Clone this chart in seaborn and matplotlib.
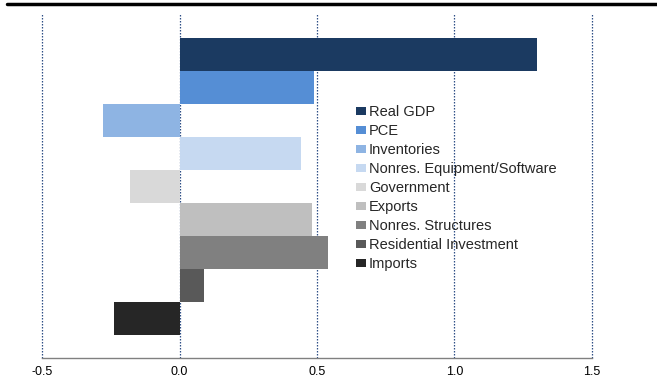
import matplotlib
matplotlib.use("Agg")
import matplotlib.pyplot as plt
from matplotlib.lines import Line2D
import seaborn as sns
import pandas as pd

categories = [
    "Real GDP",
    "PCE",
    "Inventories",
    "Nonres. Equipment/Software",
    "Government",
    "Exports",
    "Nonres. Structures",
    "Residential Investment",
    "Imports",
]
values = [1.30, 0.49, -0.28, 0.44, -0.18, 0.48, 0.54, 0.09, -0.24]
colors = ["#1B3A61", "#558ED5", "#8EB4E3", "#C6D9F1", "#D9D9D9",
          "#BFBFBF", "#808080", "#595959", "#262626"]
xticks = [-0.5, 0.0, 0.5, 1.0, 1.5]

sns.set_style("white")
plt.rcParams["font.family"] = ["Liberation Sans", "DejaVu Sans"]

df = pd.DataFrame({"component": categories, "contribution": values})

fig = plt.figure(figsize=(6.57, 3.80), dpi=100)
ax = fig.add_axes([0.064, 0.058, 0.837, 0.908])

sns.barplot(data=df, y="component", x="contribution", hue="component",
            palette=colors, width=1.0, dodge=False, legend=False,
            saturation=1.0, linewidth=0, ax=ax)

ax.set_xlim(-0.5, 1.5)
ax.set_ylim(9.2, -1.25)
ax.set_xticks(xticks)
ax.set_xticklabels([f"{t:.1f}" for t in xticks], fontsize=9)
ax.set_yticks([])
ax.set_xlabel("")
ax.set_ylabel("")

for t in xticks:
    ax.axvline(t, color="#2E4F86", linestyle=(0, (1.2, 1.2)), linewidth=0.9,
               zorder=0, clip_on=False)

for side in ["left", "right", "top"]:
    ax.spines[side].set_visible(False)
ax.spines["bottom"].set_color("#808080")
ax.spines["bottom"].set_linewidth(1.0)
ax.spines["bottom"].set_zorder(3)
ax.tick_params(axis="x", direction="out", length=3.6, width=1.0, color="#808080",
               pad=2, labelcolor="black")

handles = [plt.Rectangle((0, 0), 1, 1, facecolor=c, edgecolor="none") for c in colors]
ax.legend(handles, categories, loc="upper left", bbox_to_anchor=(356 / 657, 1 - 105.5 / 380),
          bbox_transform=fig.transFigure, frameon=False, fontsize=10.5,
          handlelength=0.68, handleheight=0.45, handletextpad=0.2,
          labelspacing=0.34, borderaxespad=0, borderpad=0)

fig.add_artist(Line2D([0.01, 1.0], [1 - 3.5 / 380, 1 - 3.5 / 380],
                      transform=fig.transFigure, color="black", linewidth=2.5))

fig.savefig("out.png", dpi=100)
